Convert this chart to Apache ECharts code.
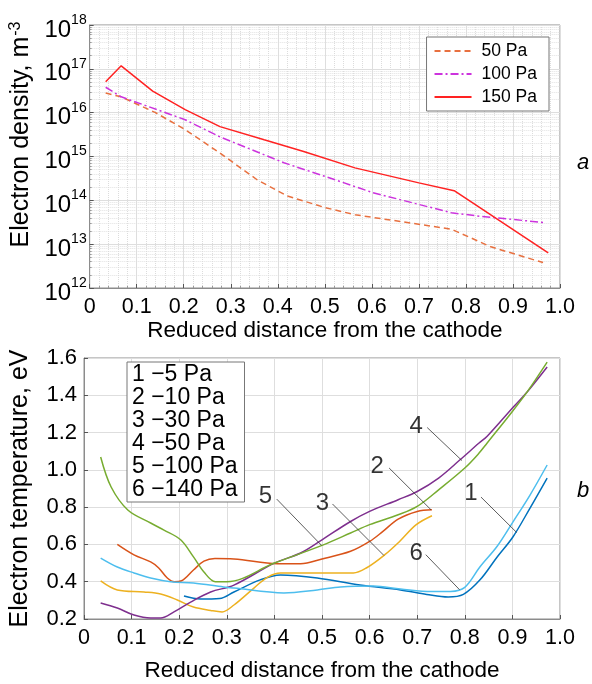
<!DOCTYPE html>
<html>
<head>
<meta charset="utf-8">
<script src="https://cdn.jsdelivr.net/npm/echarts@6/dist/echarts.min.js"></script>
<style>
  html, body { margin: 0; padding: 0; background: #fff; }
  #chart { width: 592px; height: 684px; }
</style>
</head>
<body>
<div id="chart"></div>
<script>
// (a) electron density vs reduced distance, [x, n_e in m^-3]
const density50 = [[0.034, 2.8e16], [0.067, 2.3e16], [0.14, 1.0e16], [0.203, 4.1e15], [0.277, 1.2e15],
  [0.356, 2.95e14], [0.42, 1.26e14], [0.501, 6.8e13], [0.564, 4.7e13], [0.769, 2.2e13], [0.853, 8.7e12], [0.964, 3.8e12]]
const density100 = [[0.034, 3.8e16], [0.067, 2.3e16], [0.203, 6.9e15], [0.277, 2.8e15], [0.413, 7.2e14],
  [0.501, 3.5e14], [0.602, 1.5e14], [0.769, 5.2e13], [0.832, 4.3e13], [0.969, 3.1e13]]
const density150 = [[0.034, 5.1e16], [0.067, 1.17e17], [0.134, 3.1e16], [0.203, 1.17e16], [0.277, 4.8e15],
  [0.371, 2.4e15], [0.455, 1.3e15], [0.564, 5.5e14], [0.70, 2.5e14], [0.775, 1.66e14], [0.975, 6.3e12]]
const densityNames = ['50 Pa', '100 Pa', '150 Pa']

// (b) electron temperature, [x, Te in eV]
const temp5 = [[0.21, 0.323], [0.245, 0.307], [0.285, 0.31], [0.315, 0.345], [0.37, 0.41], [0.413, 0.436],
  [0.49, 0.42], [0.58, 0.382], [0.665, 0.356], [0.72, 0.332], [0.765, 0.318], [0.797, 0.332], [0.832, 0.41],
  [0.868, 0.533], [0.901, 0.64], [0.937, 0.795], [0.973, 0.956]]
const temp10 = [[0.07, 0.6], [0.105, 0.544], [0.14, 0.506], [0.157, 0.474], [0.175, 0.42], [0.19, 0.4],
  [0.205, 0.405], [0.23, 0.463], [0.252, 0.51], [0.275, 0.524], [0.315, 0.522], [0.406, 0.497], [0.455, 0.497],
  [0.5, 0.522], [0.56, 0.563], [0.6, 0.616], [0.628, 0.67], [0.66, 0.736], [0.7, 0.777], [0.731, 0.786]]
const temp30 = [[0.035, 0.404], [0.07, 0.356], [0.126, 0.345], [0.161, 0.334], [0.196, 0.302], [0.23, 0.264],
  [0.266, 0.246], [0.29, 0.238], [0.315, 0.275], [0.357, 0.366], [0.386, 0.425], [0.413, 0.447], [0.49, 0.447],
  [0.566, 0.447], [0.594, 0.475], [0.632, 0.545], [0.663, 0.616], [0.698, 0.706], [0.731, 0.754]]
const temp50 = [[0.035, 0.286], [0.07, 0.259], [0.105, 0.221], [0.14, 0.205], [0.161, 0.205], [0.189, 0.238],
  [0.224, 0.291], [0.266, 0.345], [0.315, 0.382], [0.4, 0.5], [0.455, 0.554], [0.5, 0.625], [0.56, 0.723],
  [0.6, 0.777], [0.66, 0.84], [0.7, 0.884], [0.745, 0.956], [0.79, 1.054], [0.83, 1.144], [0.847, 1.18],
  [0.902, 1.337], [0.931, 1.418], [0.973, 1.552]]
const temp100 = [[0.035, 1.069], [0.057, 0.908], [0.092, 0.785], [0.14, 0.715], [0.168, 0.677], [0.203, 0.625],
  [0.23, 0.533], [0.252, 0.452], [0.276, 0.4], [0.3, 0.4], [0.4, 0.5], [0.5, 0.595], [0.56, 0.661], [0.6, 0.706],
  [0.66, 0.759], [0.7, 0.804], [0.745, 0.893], [0.8, 1.01], [0.83, 1.09], [0.847, 1.144], [0.902, 1.32],
  [0.931, 1.418], [0.973, 1.578]]
const temp140 = [[0.035, 0.527], [0.07, 0.479], [0.105, 0.447], [0.14, 0.42], [0.182, 0.4], [0.23, 0.393],
  [0.293, 0.372], [0.315, 0.366], [0.42, 0.34], [0.49, 0.356], [0.539, 0.372], [0.608, 0.377], [0.665, 0.361],
  [0.73, 0.347], [0.77, 0.348], [0.8, 0.37], [0.832, 0.48], [0.868, 0.59], [0.901, 0.72], [0.937, 0.865],
  [0.973, 1.026]]
const tempNames = ['1 \u22125 Pa', '2 \u221210 Pa', '3 \u221230 Pa', '4 \u221250 Pa', '5 \u2212100 Pa', '6 \u2212140 Pa']

// curve number labels and their leader lines (data coords of panel b)
const curveTags = ['1', '2', '3', '4', '5', '6']
const tagAt = [[0.813, 0.876], [0.616, 1.018], [0.501, 0.822], [0.698, 1.233], [0.381, 0.856], [0.698, 0.55]]
const leaderFrom = [[0.834, 0.854], [0.641, 1.01], [0.522, 0.817], [0.721, 1.227], [0.405, 0.843], [0.718, 0.545]]
const leaderTo = [[0.909, 0.664], [0.729, 0.786], [0.630, 0.541], [0.794, 1.050], [0.499, 0.595], [0.789, 0.357]]

const xTicks = { min: 0, max: 1, interval: 0.1 }
const tempRange = { min: 0.2, max: 1.6, interval: 0.2 }

const font = '"Liberation Sans", Arial, sans-serif'
const chart = echarts.init(document.getElementById('chart'))

const xFmt = v => (v === 0 ? '0' : v.toFixed(1))
const frame = '#8c8c8c'

const xAxisBase = (gridIndex, gap) => ({
  type: 'value',
  gridIndex,
  min: xTicks.min,
  max: xTicks.max,
  interval: xTicks.interval,
  name: 'Reduced distance from the cathode',
  nameLocation: 'middle',
  nameGap: gap,
  nameTextStyle: { fontSize: 22.5, color: '#000' },
  axisLine: { lineStyle: { color: frame } },
  axisTick: { inside: true, length: 4, lineStyle: { color: '#555' } },
  axisLabel: { fontSize: 21.5, color: '#000', margin: 8, formatter: xFmt },
  splitLine: { lineStyle: { color: '#dedede' } }
})

const tempColors = ['#0072BD', '#D95319', '#EDB120', '#7E2F8E', '#77AC30', '#4DBEEE']
const tempSets = [temp5, temp10, temp30, temp50, temp100, temp140]

const option = {
  textStyle: { fontFamily: font },
  animation: false,
  grid: [
    { left: 83, top: 25, width: 477, height: 263, show: true, borderColor: frame, borderWidth: 1 },
    { left: 83, top: 358, width: 477, height: 261, show: true, borderColor: frame, borderWidth: 1 }
  ],
  xAxis: [
    Object.assign(xAxisBase(0, 29), {
      minorTick: { show: true, splitNumber: 5, length: 2, lineStyle: { color: '#999' } },
      minorSplitLine: { show: true, lineStyle: { color: '#dcdcdc', type: 'dotted' } }
    }),
    xAxisBase(1, 40)
  ],
  yAxis: [
    {
      type: 'log',
      gridIndex: 0,
      min: 1e12,
      max: 1e18,
      splitNumber: 6,
      name: '{n|Electron density, m}{s|-3}',
      nameLocation: 'middle',
      nameGap: 50,
      nameTextStyle: {
        padding: [0, 0, 0, 44],
        rich: {
          n: { fontSize: 25, color: '#000', fontFamily: font },
          s: { fontSize: 16, color: '#000', fontFamily: font, verticalAlign: 'top', padding: [0, 0, 10, 1] }
        }
      },
      axisLine: { lineStyle: { color: frame } },
      axisTick: { inside: true, length: 4, lineStyle: { color: '#555' } },
      minorTick: { show: true, splitNumber: 9, length: 2, lineStyle: { color: '#999' } },
      minorSplitLine: { show: true, lineStyle: { color: '#e2e2e2', type: 'dotted' } },
      splitLine: { lineStyle: { color: '#dedede' } },
      axisLabel: {
        margin: 3,
        formatter: v => '{b|10}{s|' + Math.round(Math.log10(v)) + '}',
        rich: {
          b: { fontSize: 24, color: '#000', fontFamily: font, padding: [10, 0, 0, 0] },
          s: { fontSize: 14, color: '#000', fontFamily: font, padding: [0, 0, 10, 0] }
        }
      }
    },
    {
      type: 'value',
      gridIndex: 1,
      min: tempRange.min,
      max: tempRange.max,
      interval: tempRange.interval,
      name: 'Electron temperature, eV',
      nameLocation: 'middle',
      nameGap: 51,
      nameTextStyle: { fontSize: 25, color: '#000' },
      axisLine: { lineStyle: { color: frame } },
      axisTick: { inside: true, length: 4, lineStyle: { color: '#555' } },
      splitLine: { lineStyle: { color: '#dedede' } },
      axisLabel: { fontSize: 22, color: '#000', margin: 7, formatter: v => v.toFixed(1) }
    }
  ],
  legend: [
    {
      data: densityNames,
      orient: 'vertical',
      right: 43,
      top: 37,
      itemWidth: 37,
      itemHeight: 14,
      itemGap: 3,
      padding: [4, 12, 4, 7],
      borderColor: '#777',
      borderWidth: 1,
      backgroundColor: '#fff',
      itemStyle: { opacity: 0 },
      textStyle: { fontSize: 17.5, color: '#000', lineHeight: 20, padding: [0, 0, 0, 5] },
      selectedMode: false
    },
    {
      data: tempNames,
      orient: 'vertical',
      left: 127,
      top: 362,
      icon: 'rect',
      itemWidth: 0,
      itemHeight: 0,
      itemGap: 0,
      padding: [1, 7, 1, 0],
      borderColor: '#777',
      borderWidth: 1,
      backgroundColor: '#fff',
      textStyle: { fontSize: 23, color: '#000', lineHeight: 22.8 },
      selectedMode: false
    }
  ],
  graphic: [
    { type: 'text', left: 577, top: 152, style: { text: 'a', font: 'italic 22px ' + font, fill: '#000' } },
    { type: 'text', left: 577, top: 480, style: { text: 'b', font: 'italic 22px ' + font, fill: '#000' } }
  ],
  series: [
    {
      name: densityNames[0], type: 'line', xAxisIndex: 0, yAxisIndex: 0, data: density50,
      symbol: 'none', lineStyle: { color: '#E8703F', width: 1.5, type: [6, 4] }, itemStyle: { color: '#E8703F' }
    },
    {
      name: densityNames[1], type: 'line', xAxisIndex: 0, yAxisIndex: 0, data: density100,
      symbol: 'none', lineStyle: { color: '#CC33DD', width: 1.5, type: [8, 3, 2, 3] }, itemStyle: { color: '#CC33DD' }
    },
    {
      name: densityNames[2], type: 'line', xAxisIndex: 0, yAxisIndex: 0, data: density150,
      symbol: 'none', lineStyle: { color: '#FF2222', width: 1.5 }, itemStyle: { color: '#FF2222' }
    },
    ...tempSets.map((d, i) => ({
      name: tempNames[i], type: 'line', xAxisIndex: 1, yAxisIndex: 1, data: d,
      symbol: 'none', smooth: 0.35, z: 3,
      lineStyle: { color: tempColors[i], width: 1.5 }, itemStyle: { color: tempColors[i] }
    })),
    {
      type: 'lines', coordinateSystem: 'cartesian2d', xAxisIndex: 1, yAxisIndex: 1, silent: true, z: 4,
      lineStyle: { color: '#333', width: 0.8, opacity: 1 },
      data: leaderFrom.map((p, i) => ({ coords: [p, leaderTo[i]] }))
    },
    {
      type: 'scatter', xAxisIndex: 1, yAxisIndex: 1, silent: true, symbolSize: 1, z: 5,
      itemStyle: { color: 'rgba(0,0,0,0)' },
      data: tagAt.map((p, i) => [p[0], p[1], curveTags[i]]),
      label: { show: true, position: 'inside', formatter: p => p.data[2], fontSize: 24, color: '#000' }
    }
  ]
}

chart.setOption(option)
</script>
</body>
</html>
